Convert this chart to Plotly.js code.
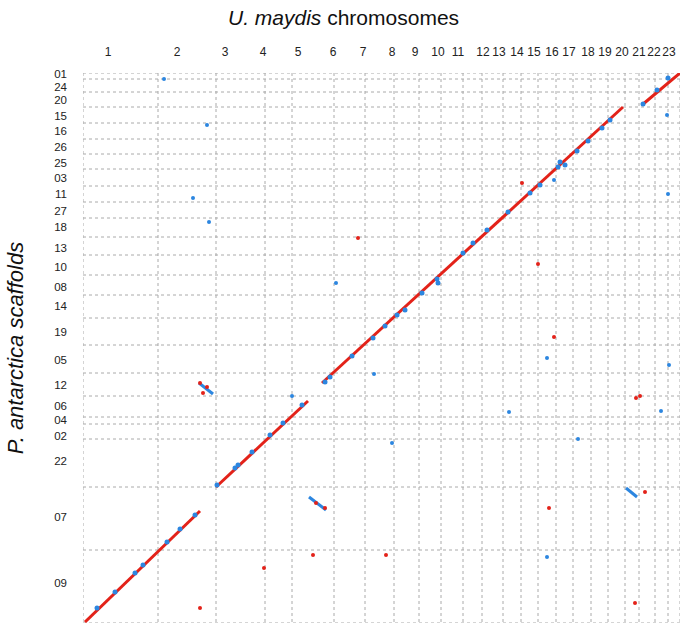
<!DOCTYPE html>
<html>
<head>
<meta charset="utf-8">
<script src="https://cdn.plot.ly/plotly-3.0.1.min.js"></script>
<style>
  html, body { margin: 0; padding: 0; background: #fff; }
  #plot { width: 683px; height: 628px; }
</style>
</head>
<body>
<div id="plot"></div>
<script>
// chromosome boundaries along x (cumulative position), and where the labels sit
const chromBounds = [0, 75, 133, 182, 209, 251, 282, 311, 336, 358, 380, 399, 420, 438, 455, 473, 490, 508, 525, 542, 556, 572, 585, 597];
const chromLabelPos = [25, 94, 142, 180, 215, 250, 280, 309, 332, 355, 375, 400, 416, 434, 451, 469, 486, 505, 522, 539, 556, 571, 586];
const chromLabels = ['1', '2', '3', '4', '5', '6', '7', '8', '9', '10', '11', '12', '13', '14', '15', '16', '17', '18', '19', '20', '21', '22', '23'];

// scaffold boundaries along y (top to bottom), and where the labels sit
const scaffoldBounds = [0, 6, 19, 34, 50, 66, 81, 96, 113, 129, 145, 164, 182, 202, 222, 245, 272, 300, 323, 344, 351, 366, 414, 477, 550];
const scaffoldLabelPos = [1, 13.5, 27, 43, 58, 74, 90, 105, 121, 138, 154, 175, 194, 214, 233, 259, 287, 312, 333, 347, 363, 388, 444, 510];
const scaffoldLabels = ['01', '24', '20', '15', '16', '26', '25', '03', '11', '27', '18', '13', '10', '08', '14', '19', '05', '12', '06', '04', '02', '22', '07', '09'];

// collinear (red) blocks: start/end
const redBlocksX = [[2, 117], [133, 225], [239, 540], [559, 597]];
const redBlocksY = [[549, 438], [414, 328], [310, 34], [32, 0]];

// inverted (blue) blocks: start/end
const invBlocksX = [[116, 130], [226, 243], [543, 554]];
const invBlocksY = [[310, 321], [424, 437], [415, 424]];

// blue hits along the diagonal
const blueDiagX = [14, 32, 52, 60, 84, 97, 112, 134, 152, 155, 169, 187, 200, 219,
  242, 247, 269, 290, 302, 314, 322, 339, 354, 355, 380, 390, 404, 425, 447, 457,
  475, 477, 482, 494, 505, 519, 527, 560, 574, 585];
const blueDiagY = [535, 519, 500, 492, 469, 456, 442, 412, 395, 392, 379, 362, 350, 332,
  309, 304, 283, 265, 253, 242, 237, 220, 206, 210, 180, 170, 157, 139, 120, 112,
  94, 89, 92, 78, 68, 55, 47, 31, 17, 5];

// scattered blue hits
const blueDotsX = [81, 124, 110, 126, 471, 584, 585, 253, 291, 209, 309, 464, 586, 426, 578, 495, 464];
const blueDotsY = [6, 52, 125, 149, 107, 42, 121, 210, 301, 323, 370, 285, 292, 339, 338, 366, 484];

// scattered red hits
const redDotsX = [275, 439, 455, 471, 553, 557, 181, 230, 303, 466, 117, 552, 117, 124, 120, 233, 242, 562];
const redDotsY = [165, 110, 191, 264, 325, 323, 495, 482, 482, 435, 535, 530, 310, 314, 320, 430, 435, 419];

const red = '#e32219';
const blue = '#2c86e0';

function joinBlocks(blocks) {
  const out = [];
  blocks.forEach(b => { out.push(b[0], b[1], null); });
  return out;
}

const traces = [
  {
    x: joinBlocks(redBlocksX), y: joinBlocks(redBlocksY),
    mode: 'lines', type: 'scatter',
    line: { color: red, width: 3 }, hoverinfo: 'skip'
  },
  {
    x: joinBlocks(invBlocksX), y: joinBlocks(invBlocksY),
    mode: 'lines', type: 'scatter',
    line: { color: blue, width: 3 }, hoverinfo: 'skip'
  },
  {
    x: blueDiagX, y: blueDiagY, mode: 'markers', type: 'scatter',
    marker: { color: blue, size: 5 }
  },
  {
    x: blueDotsX, y: blueDotsY, mode: 'markers', type: 'scatter',
    marker: { color: blue, size: 4 }
  },
  {
    x: redDotsX, y: redDotsY, mode: 'markers', type: 'scatter',
    marker: { color: red, size: 4 }
  }
];

const grid = { color: '#aaaaaa', width: 1, dash: 'dot' };
const yTop = scaffoldBounds[0], yBot = scaffoldBounds[scaffoldBounds.length - 1];
const xLeft = chromBounds[0], xRight = chromBounds[chromBounds.length - 1];
const shapes = [];
chromBounds.forEach(v => shapes.push({ type: 'line', layer: 'below', x0: v, x1: v, y0: yTop, y1: yBot, line: grid }));
scaffoldBounds.forEach(v => shapes.push({ type: 'line', layer: 'below', x0: xLeft, x1: xRight, y0: v, y1: v, line: grid }));

const font = 'Liberation Sans, Arial, sans-serif';

Plotly.newPlot('plot', traces, {
  width: 683,
  height: 628,
  margin: { l: 83, r: 3, t: 73, b: 5 },
  paper_bgcolor: '#fff',
  plot_bgcolor: '#fff',
  showlegend: false,
  title: {
    text: '<i>U. maydis</i> chromosomes',
    font: { family: font, size: 21, color: '#111' },
    x: 0.503, xref: 'container', xanchor: 'center',
    y: 0.972, yref: 'container', yanchor: 'middle'
  },
  xaxis: {
    range: [xLeft, xRight], side: 'top',
    tickvals: chromLabelPos, ticktext: chromLabels, tickangle: 0,
    showgrid: false, zeroline: false, showline: false, ticks: '',
    ticklabelstandoff: 14, tickfont: { family: font, size: 12, color: '#222' }, fixedrange: true
  },
  yaxis: {
    range: [yBot, yTop],
    tickvals: scaffoldLabelPos, ticktext: scaffoldLabels,
    showgrid: false, zeroline: false, showline: false, ticks: '',
    ticklabelstandoff: 15, tickfont: { family: font, size: 11.5, color: '#222' }, fixedrange: true,
    title: {
      text: '<i>P. antarctica scaffolds</i>',
      font: { family: font, size: 22, color: '#111' },
      standoff: 24
    },
    automargin: false
  },
  shapes: shapes
}, { displayModeBar: false, staticPlot: true });
</script>
</body>
</html>
